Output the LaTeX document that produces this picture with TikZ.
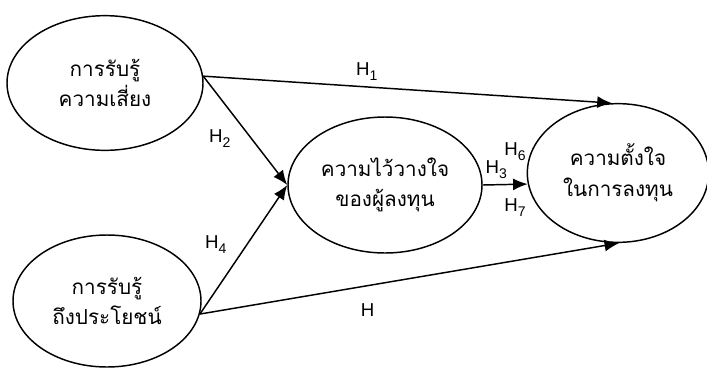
\documentclass[tikz,border=0pt]{standalone}
\usepackage{fontspec}
\setmainfont{Liberation Sans}
\newfontfamily\thaifont[Script=Thai]{Loma}
\usetikzlibrary{shapes.geometric,arrows.meta}

% H with subscript number
\newcommand{\hyplabel}[1]{H\raisebox{-0.5ex}{\fontsize{10.5}{10.5}\selectfont #1}}

\begin{document}
\begin{tikzpicture}[x=0.75pt, y=-0.75pt, >={Latex[length=11pt,width=9pt]},
    % Estilos de nodos
    construct/.style={
        draw, ellipse, line width=1.1pt, inner sep=0pt,
        font=\thaifont\fontsize{15.5}{23}\selectfont, align=center
    },
    hyp/.style={font=\fontsize{14}{14}\selectfont, inner sep=1pt},
    path/.style={->, line width=1.1pt}
]
\useasboundingbox (0,0) rectangle (707,372);

% =============================================
% CONSTRUCTOS
% =============================================

% Percepcion de riesgo (arriba izquierda)
\node[construct, minimum width=147pt, minimum height=101pt] (risk) at (105,83)
    {การรับรู้\\ความเสี่ยง};

% Percepcion de beneficio (abajo izquierda)
\node[construct, minimum width=141pt, minimum height=99pt] (benefit) at (107,301)
    {การรับรู้\\ถึงประโยชน์};

% Confianza (centro)
\node[construct, minimum width=145.5pt, minimum height=102pt] (trust) at (385,185)
    {ความไว้วางใจ\\ของผู้ลงทุน};

% Intencion (derecha)
\node[construct, minimum width=136pt, minimum height=104pt] (intent) at (618,173)
    {ความตั้งใจ\\ในการลงทุน};

% =============================================
% HIPOTESIS
% =============================================

% riesgo -> intencion
\draw[path] (risk.4) -- (intent.95)
    node[hyp, pos=0.4, above=3pt] (h1) {\hyplabel{1}};

% riesgo -> confianza
\draw[path] (risk.4) -- (trust.west)
    node[hyp, pos=0.57, left=14pt] (h2) {\hyplabel{2}};

% beneficio -> confianza
\draw[path] (benefit.-8) -- (trust.west)
    node[hyp, pos=0.54, left=14pt] (h4) {\hyplabel{4}};

% beneficio -> intencion
\draw[path] (benefit.-8) -- (intent.-89)
    node[hyp, pos=0.4, below=12pt] (h) {H};

% confianza -> intencion
\draw[path] (trust.east) -- (intent.187)
    node[hyp, pos=0.3, above=3pt] (h3) {\hyplabel{3}};

\node[hyp] (h6) at (515,152) {\hyplabel{6}};
\node[hyp] (h7) at (515,208) {\hyplabel{7}};

\end{tikzpicture}
\end{document}
